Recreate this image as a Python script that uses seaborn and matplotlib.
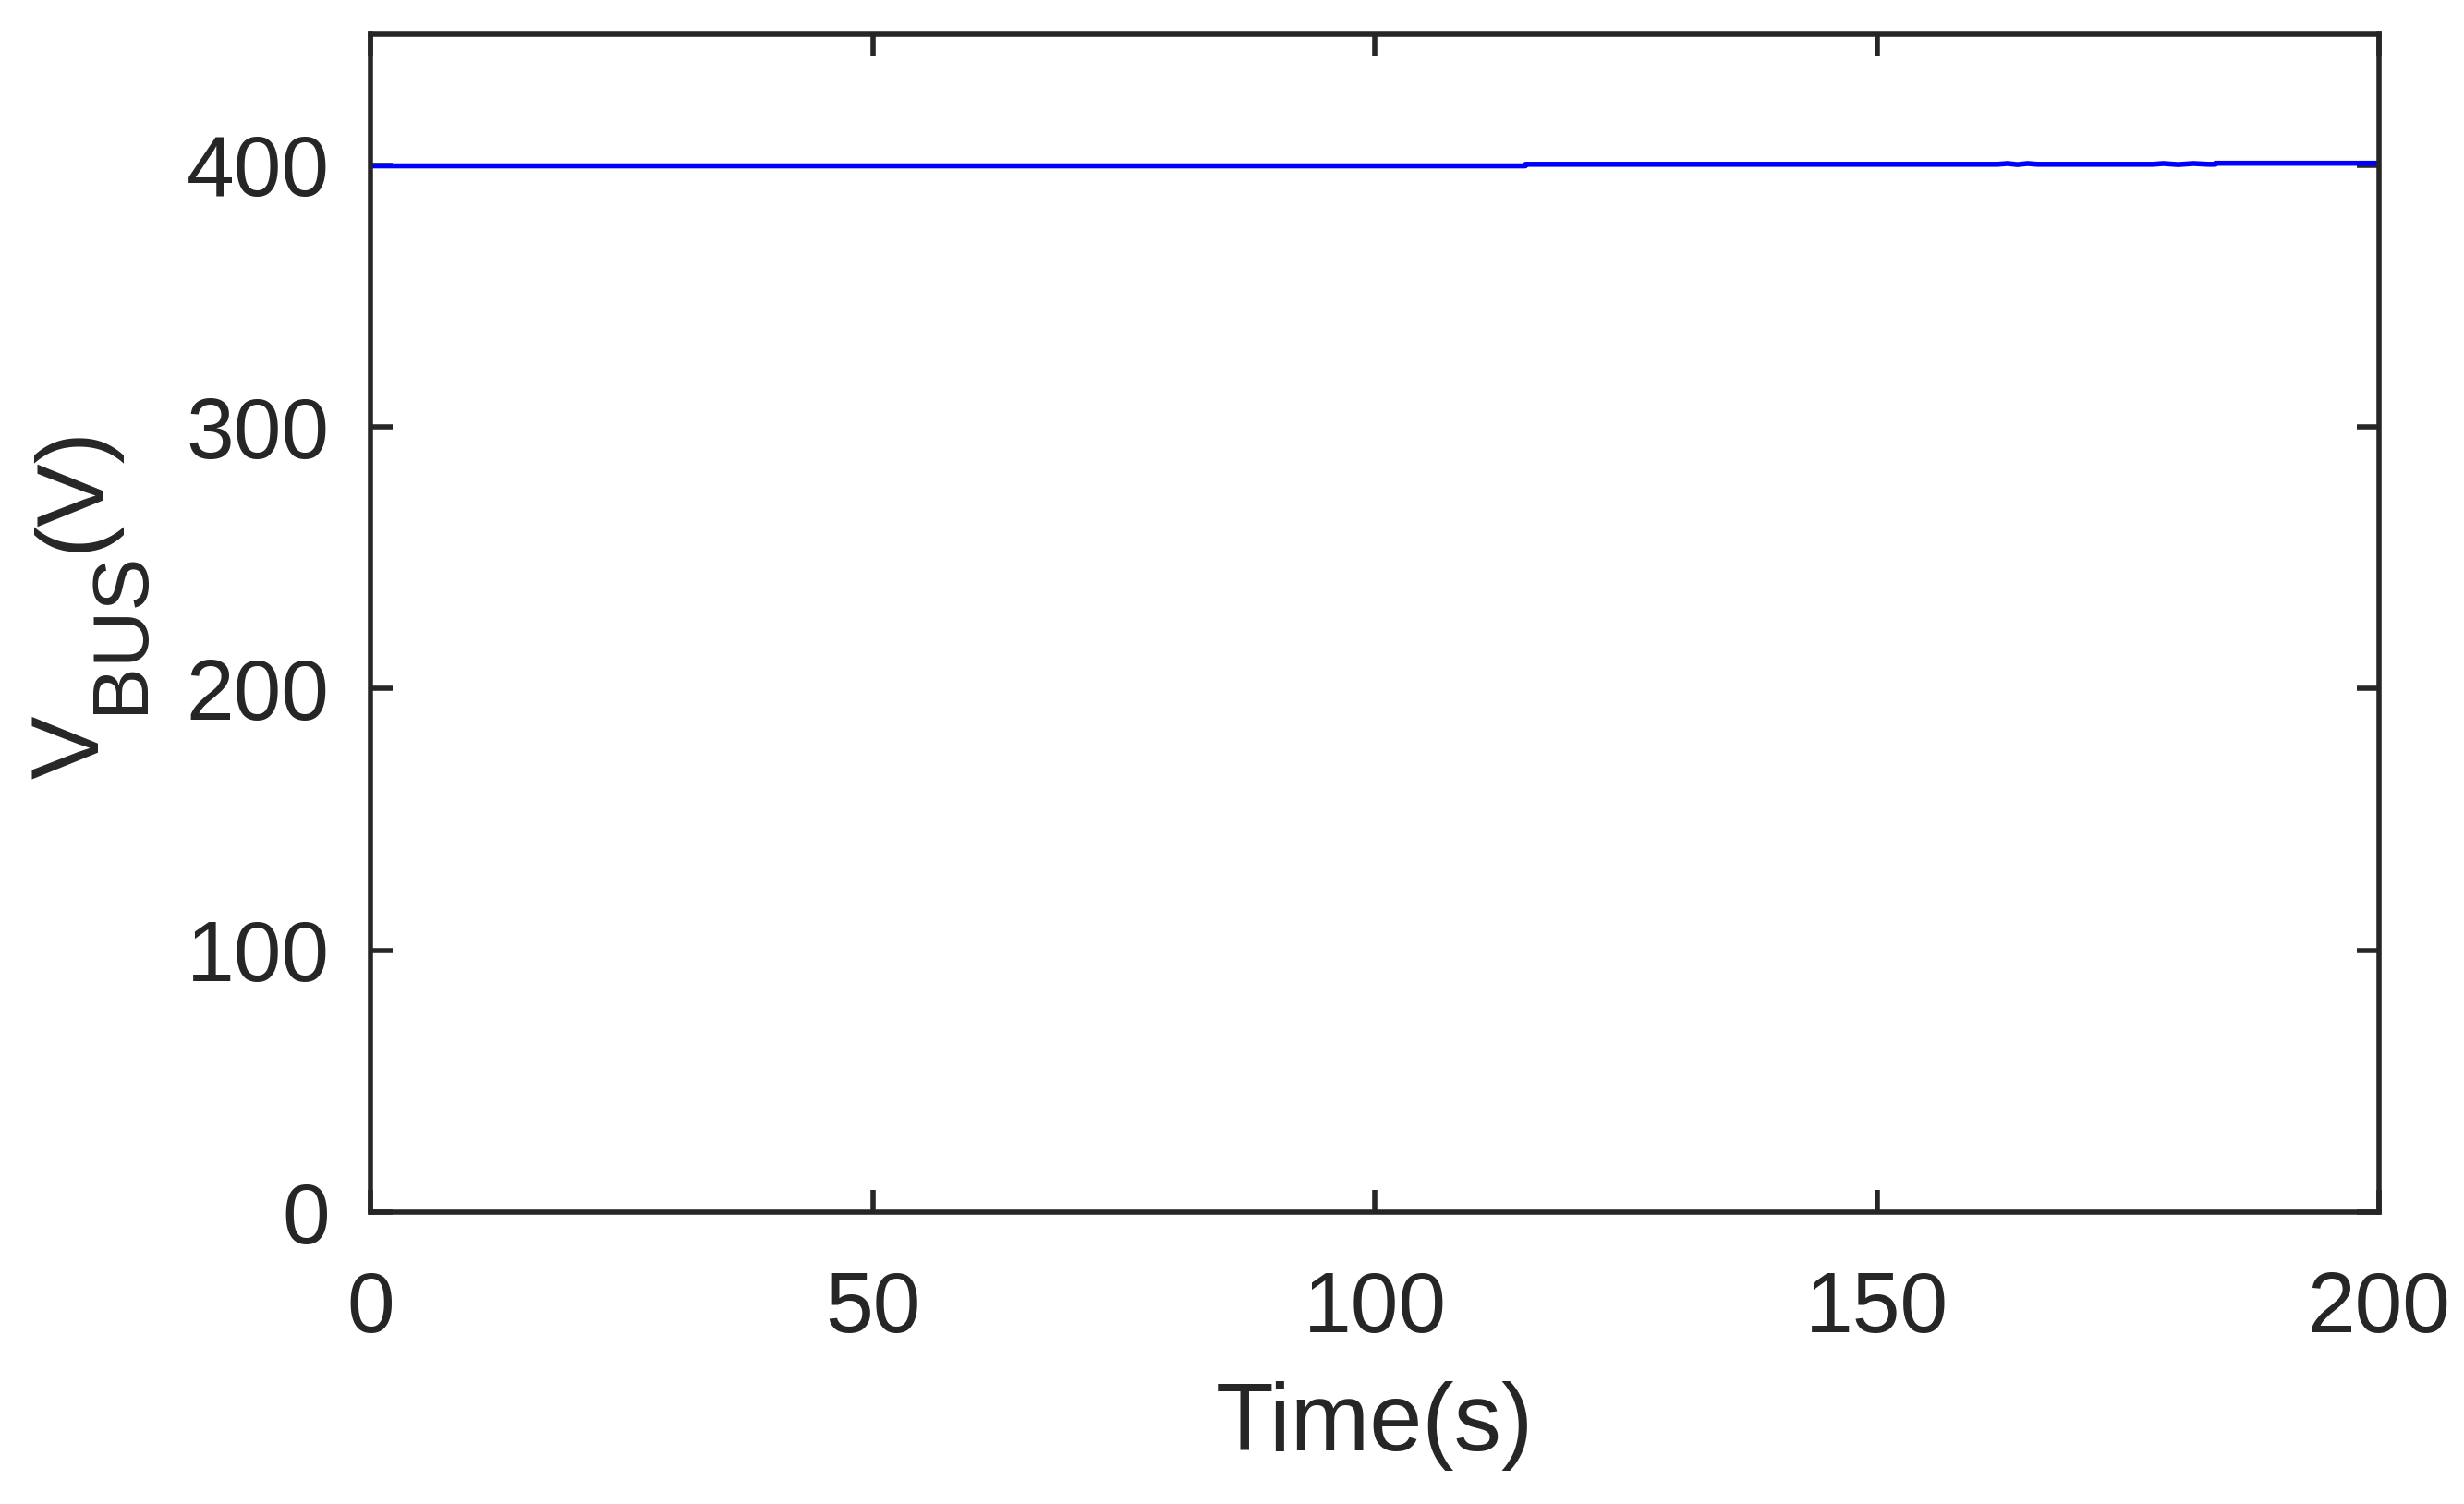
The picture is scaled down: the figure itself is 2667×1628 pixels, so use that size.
import numpy as np
import pandas as pd
import matplotlib
matplotlib.use('Agg')
import matplotlib.pyplot as plt
import seaborn as sns

# bus voltage trace (s, V)
tempo = [0, 115, 115, 162, 163, 164, 165, 166, 166.5,
         177.5, 178.5, 180, 181.5, 183, 183.7, 183.7, 200]
v_bus = [399.7, 399.7, 400.3, 400.3, 400.6, 400.2, 400.6, 400.3, 400.3,
         400.3, 400.6, 400.2, 400.6, 400.3, 400.3, 400.7, 400.7]

x_ticks = [0, 50, 100, 150, 200]
y_ticks = [0, 100, 200, 300, 400]

df = pd.DataFrame({'t': tempo, 'v': v_bus})

sns.set_theme(style='white')
plt.rcParams['font.family'] = ['Liberation Sans', 'DejaVu Sans']

cinza = '#262626'
W, H = 2667, 1628

fig = plt.figure(figsize=(W / 200, H / 200), dpi=200)
ax = fig.add_axes([0.15036, 0.19410, 0.81515, 0.78317])

sns.lineplot(x='t', y='v', data=df, ax=ax, color='#0000ff', linewidth=2.0,
             estimator=None, sort=False)

ax.set_xlim(0, 200)
ax.set_ylim(0, 450)
ax.set_xticks(x_ticks)
ax.set_yticks(y_ticks)

for s in ax.spines.values():
    s.set_visible(True)
    s.set_color(cinza)
    s.set_linewidth(2.0)

ax.tick_params(direction='in', length=8.5, width=2.0, color=cinza,
               bottom=True, left=True, top=True, right=True,
               labelsize=33.5, labelcolor=cinza)
ax.tick_params(axis='y', pad=16)
ax.tick_params(axis='x', pad=22.5)

ax.set_xlabel('Time(s)', fontsize=37, color=cinza, labelpad=12.5)
ax.set_ylabel('')

# y label V_BUS(V), built from pieces so the subscript matches the original
kw = dict(rotation=90, rotation_mode='anchor', ha='left', va='baseline', color=cinza)
fig.text(107 / W, 1 - 843 / H, 'V', fontsize=37, **kw)
fig.text(154 / W, 1 - 772 / H, 'BUS', fontsize=30.7, **kw)
fig.text(107 / W, 1 - 597 / H, '(V)', fontsize=37, **kw)

fig.savefig('out.png', dpi=200, facecolor='white')
